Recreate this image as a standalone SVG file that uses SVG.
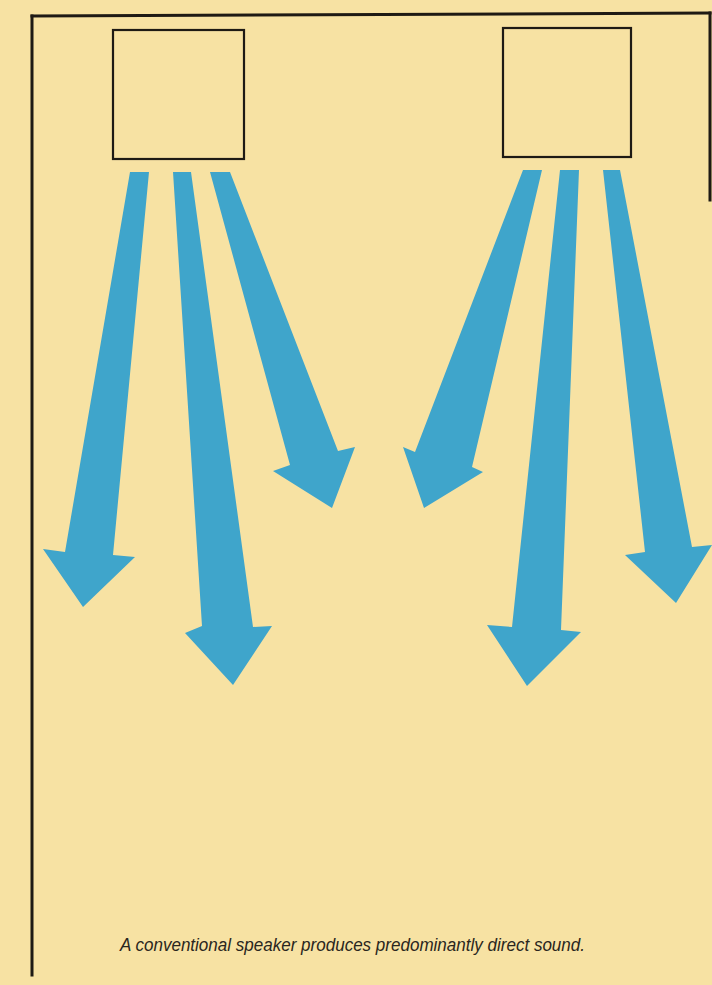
<svg xmlns="http://www.w3.org/2000/svg" width="712" height="985" viewBox="0 0 712 985">
<style>
.frame{stroke:#1e1a14;stroke-width:3;fill:none;stroke-linecap:square}
.box{fill:none;stroke:#1e1a14;stroke-width:2.2}
.arrow{fill:#3fa5cb;stroke:none}
.cap{font-family:"Liberation Sans","DejaVu Sans",sans-serif;font-style:italic;font-size:19px;fill:#2a2620}
</style>
<rect x="0" y="0" width="712" height="985" fill="#f7e2a3"/>
<g id="frame">
<line class="frame" x1="32" y1="16" x2="710" y2="13"/>
<line class="frame" x1="32" y1="16" x2="32" y2="975"/>
<line class="frame" x1="710" y1="13" x2="710" y2="200"/>
</g>
<g id="speaker-left"><rect class="box" x="113" y="30" width="131" height="129"/></g>
<g id="speaker-right"><rect class="box" x="503" y="28" width="128" height="129"/></g>
<g id="connectors">
<polygon class="arrow" points="130,172 149,172 113,555 135,557 83,607 43,549 65,552"/>
<polygon class="arrow" points="173,172 191,172 253,627 272,626 233,685 185,633 202,626"/>
<polygon class="arrow" points="210,172 230,172 338,451 355,447 332,508 273,471 290,465"/>
<polygon class="arrow" points="523,170 542,170 472,467 483,472 424,508 403,447 415,452"/>
<polygon class="arrow" points="560,170 579,170 561,630 581,632 527,686 487,625 512,627"/>
<polygon class="arrow" points="603,170 620,170 692,547 712,545 676,603 625,555 645,552"/>
</g>
<g id="caption"><text class="cap" x="120" y="951" textLength="465" lengthAdjust="spacingAndGlyphs">A conventional speaker produces predominantly direct sound.</text></g>
</svg>
